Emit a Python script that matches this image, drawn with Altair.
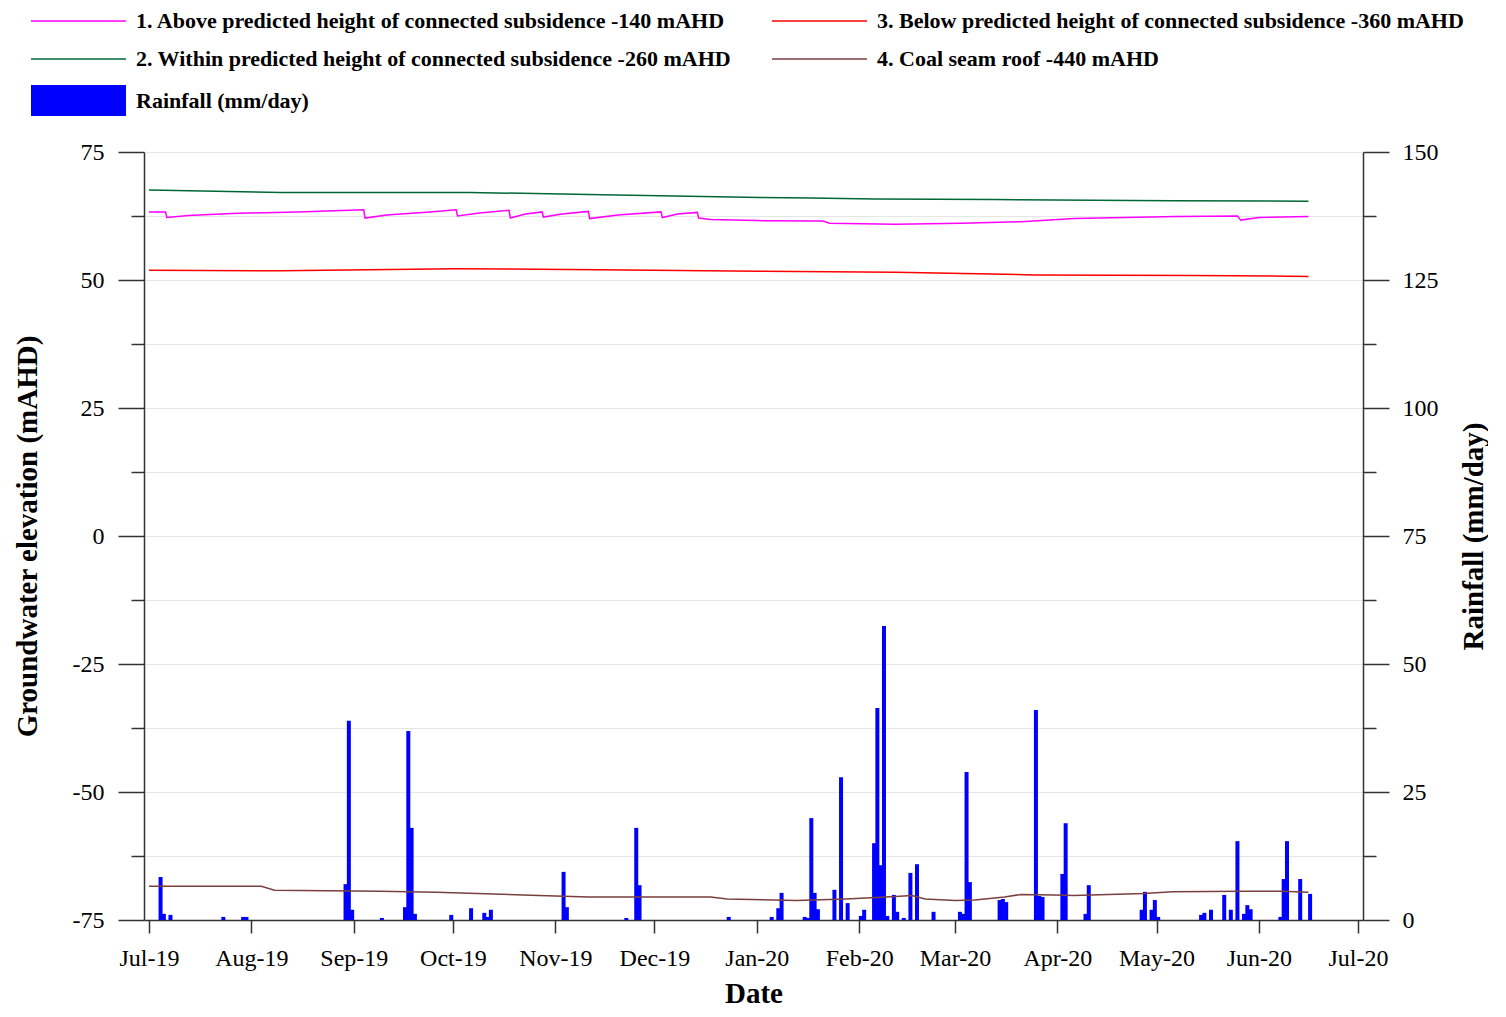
import altair as alt
import pandas as pd

BASE = "2019-07-01"

# Daily rainfall (mm/day): day offset from 1 Jul 2019, value
rain_day = [3, 4, 6, 22, 28, 29, 59, 60, 61, 70, 77, 78, 79, 80, 91, 97, 101, 102, 103,
            125, 126, 144, 147, 148, 175, 188, 190, 191, 198, 199, 200, 201, 202, 207,
            209, 211, 215, 216, 219, 220, 221, 222, 223, 225, 226, 228, 230, 232, 237,
            245, 246, 247, 248, 257, 258, 259, 268, 269, 270, 276, 277, 283, 284, 300,
            301, 303, 304, 305, 318, 319, 321, 325, 327, 329, 331, 332, 333, 342, 343,
            344, 348, 351]
rain_mm = [8.4, 1.2, 1.0, 0.6, 0.6, 0.6, 7.0, 38.9, 2.0, 0.4, 2.5, 36.9, 18.0, 1.2, 1.0, 2.3, 1.4, 0.6, 2.0,
           9.4, 2.5, 0.4, 18.0, 6.8, 0.6, 0.6, 2.3, 5.3, 0.6, 0.4, 19.9, 5.3, 2.1, 5.9,
           27.9, 3.3, 0.8, 2.0, 15.0, 41.4, 10.7, 57.4, 0.8, 4.9, 1.6, 0.4, 9.2, 10.9, 1.6,
           1.6, 1.2, 28.9, 7.4, 3.9, 4.1, 3.5, 41.0, 4.7, 4.5, 9.0, 18.9, 1.2, 6.8, 2.0,
           5.5, 2.0, 3.9, 0.6, 1.0, 1.4, 2.0, 4.9, 2.0, 15.4, 1.2, 2.9, 2.1, 0.6, 8.0,
           15.4, 8.0, 5.1]

# Groundwater series (mAHD): day offset, value
s1_day = [0, 5, 5.4, 12, 25, 45, 65, 65.4, 72, 85, 93, 93.4, 100, 109, 109.4, 114, 119, 119.4,
          125, 133, 133.4, 142, 155, 155.4, 160, 166, 166.4, 170, 184, 204, 206, 226, 246,
          264, 280, 311, 329.5, 330.5, 336, 351]
s1_val = [63.3, 63.3, 62.2, 62.6, 63.0, 63.3, 63.7, 62.1, 62.7, 63.3, 63.7, 62.5, 63.1, 63.6, 62.1, 62.9, 63.3, 62.3,
          62.9, 63.4, 62.0, 62.7, 63.3, 62.2, 62.9, 63.2, 62.1, 61.8, 61.6, 61.5, 61.1, 60.9, 61.1,
          61.4, 62.0, 62.4, 62.5, 61.7, 62.2, 62.4]

s2_day = [0, 40, 97, 133, 185, 200, 220, 256, 310, 351]
s2_val = [67.6, 67.1, 67.1, 66.7, 66.1, 66.0, 65.8, 65.7, 65.5, 65.4]

s3_day = [0, 40, 93, 136, 185, 226, 268, 316, 351]
s3_val = [51.9, 51.8, 52.2, 52.0, 51.7, 51.5, 51.0, 50.9, 50.7]

s4_day = [0, 34, 38, 70, 87, 118, 133, 170, 175, 196, 211, 226, 231, 235, 244, 250, 259,
          264, 274, 280, 301, 310, 331, 343, 351]
s4_val = [-68.4, -68.4, -69.2, -69.4, -69.6, -70.2, -70.5, -70.5, -70.9, -71.2, -70.9, -70.4, -70.2,
          -70.9, -71.2, -71.1, -70.5, -70.0, -70.1, -70.2, -69.8, -69.5, -69.4, -69.4, -69.6]

series_names = [
    "1. Above predicted height of connected subsidence -140 mAHD",
    "2. Within predicted height of connected subsidence -260 mAHD",
    "3. Below predicted height of connected subsidence -360 mAHD",
    "4. Coal seam roof -440 mAHD",
]
series_colors = ["#FF00FF", "#006837", "#FF0000", "#7A3F3F"]
rain_name = "Rainfall (mm/day)"


def iso(days, hours=0.0):
    ts = pd.Timestamp(BASE) + pd.to_timedelta(pd.Series(days, dtype=float), unit="D") + pd.Timedelta(hours=hours)
    return ts.dt.strftime("%Y-%m-%dT%H:%M:%SZ").tolist()


rain_df = pd.DataFrame({"date": iso(rain_day, 12), "mm": rain_mm, "name": rain_name})

frames = []
for name, d, v in zip(series_names, [s1_day, s2_day, s3_day, s4_day], [s1_val, s2_val, s3_val, s4_val]):
    frames.append(pd.DataFrame({"date": iso(d), "value": v, "series": name}))
line_df = pd.concat(frames, ignore_index=True)

FONT = "Liberation Serif"
AX = "#333333"

xscale = alt.Scale(
    type="utc",
    domain=[alt.DateTime(year=2019, month=7, date=1, utc=True),
            alt.DateTime(year=2020, month=7, date=1, utc=True)],
)
xaxis = alt.Axis(
    title="Date",
    labelExpr="utcFormat(datum.value, '%b-%y')",
    tickCount={"interval": "month", "step": 1},
    labelOverlap=False,
    grid=False, tickSize=13, tickColor=AX, tickWidth=1.5, domainColor=AX, domainWidth=1.5,
    labelFlush=False, labelPadding=13, labelFont=FONT, labelFontSize=24, labelColor="black",
    titleFont=FONT, titleFontSize=29, titleFontWeight="bold", titleColor="black", titlePadding=9,
)

minor_dash = {"condition": {"test": "datum.value % 25 !== 0", "value": [13, 13]}, "value": []}

left_axis = alt.Axis(
    title="Groundwater elevation (mAHD)", orient="left",
    values=[-75 + 12.5 * i for i in range(13)],
    labelExpr="datum.value % 25 === 0 ? toString(datum.value) : ''",
    labelOverlap=False,
    tickSize=26, tickDash=minor_dash, tickColor=AX, tickWidth=1.5,
    domainColor=AX, domainWidth=1.5,
    grid=True, gridColor="#e6e6e6", gridWidth=1,
    labelPadding=14, labelFont=FONT, labelFontSize=24, labelColor="black",
    titleFont=FONT, titleFontSize=29, titleFontWeight="bold", titleColor="black", titlePadding=30,
)

right_axis = alt.Axis(
    title=rain_name, orient="right",
    values=[12.5 * i for i in range(13)],
    labelExpr="datum.value % 25 === 0 ? toString(datum.value) : ''",
    labelOverlap=False,
    tickSize=26, tickDash=minor_dash, tickColor=AX, tickWidth=1.5,
    domainColor=AX, domainWidth=1.5, grid=False,
    labelPadding=13, labelFont=FONT, labelFontSize=24, labelColor="black",
    titleFont=FONT, titleFontSize=29, titleFontWeight="bold", titleColor="black",
    titleAngle=270, titleBaseline="top", titlePadding=21,
)

line_legend = alt.Legend(
    title=None, orient="none", legendX=-113, legendY=-144, columns=2, direction="horizontal",
    columnPadding=37, rowPadding=14, padding=0,
    symbolType="M-4,0H4", symbolSize=564, symbolStrokeWidth=1.5, symbolOffset=34.5,
    labelOffset=44.5, labelFont=FONT, labelFontWeight="bold", labelFontSize=22,
    labelLimit=900, labelColor="black",
)
rain_legend = alt.Legend(
    title=None, orient="none", legendX=-113, legendY=-63.5, padding=0,
    symbolType="M-4,-1.3H4V1.3H-4Z", symbolSize=564, symbolStrokeWidth=0, symbolOffset=35.5,
    labelOffset=45.5, labelFont=FONT, labelFontWeight="bold", labelFontSize=22,
    labelLimit=900, labelColor="black",
)

bars = alt.Chart(rain_df).mark_bar(size=4, opacity=1).encode(
    x=alt.X("date:T", scale=xscale, axis=xaxis),
    y=alt.Y("mm:Q", scale=alt.Scale(domain=[0, 150], nice=False), axis=right_axis),
    fill=alt.Fill("name:N", scale=alt.Scale(domain=[rain_name], range=["#0000FF"]), legend=rain_legend),
)

lines = alt.Chart(line_df).mark_line(strokeWidth=1.5).encode(
    x=alt.X("date:T", scale=xscale, axis=xaxis),
    y=alt.Y("value:Q", scale=alt.Scale(domain=[-75, 75], nice=False), axis=left_axis),
    stroke=alt.Stroke(
        "series:N",
        scale=alt.Scale(domain=[series_names[0], series_names[2], series_names[1], series_names[3]],
                        range=[series_colors[0], series_colors[2], series_colors[1], series_colors[3]]),
        legend=line_legend,
    ),
)

chart = (
    alt.layer(bars, lines)
    .resolve_scale(y="independent")
    .properties(width=1219, height=768, padding={"top": 0, "left": 5, "right": 0, "bottom": 0})
    .configure_view(stroke=None)
)

chart.save("out.html", embed_options={"renderer": "svg", "actions": False})
